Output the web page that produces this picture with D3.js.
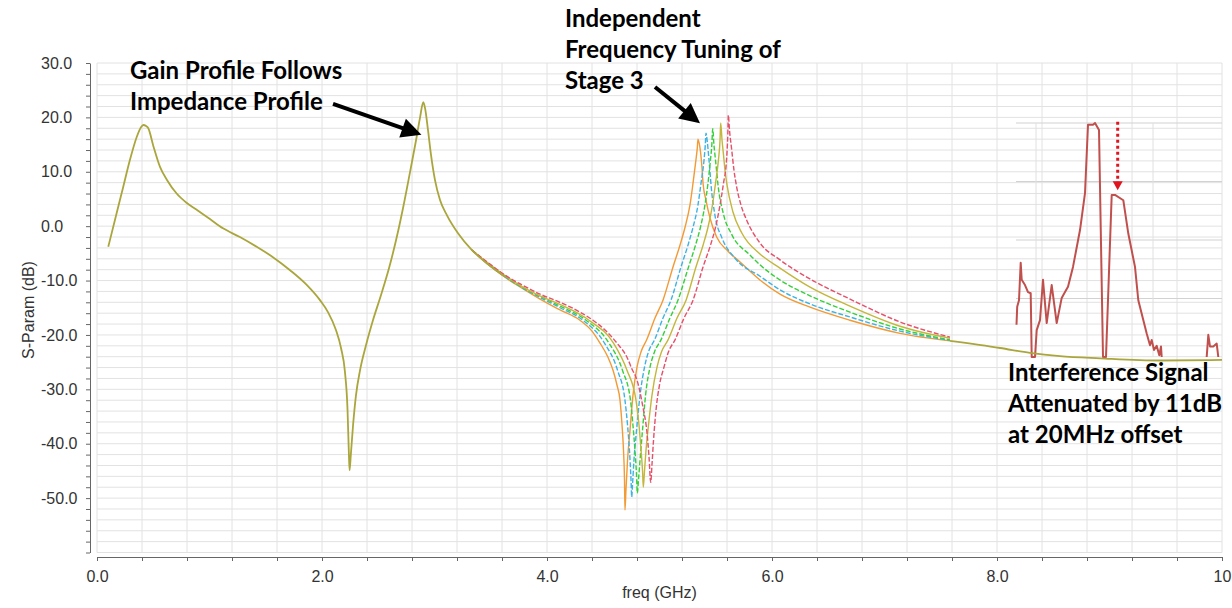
<!DOCTYPE html>
<html>
<head>
<meta charset="utf-8">
<title>S-Param vs freq</title>
<script src="https://cdn.jsdelivr.net/npm/d3@7"></script>
<style>
  body{margin:0;background:#fff;}
  svg{display:block;}
  .axis text{font-family:"Liberation Sans",Arial,sans-serif;font-size:16px;fill:#333;}
  .axis path,.axis line{stroke:#666;}
  .title{font-family:"Liberation Sans",Arial,sans-serif;font-size:16px;fill:#333;}
  .note{font-family:Lato,"Open Sans",sans-serif;font-weight:bold;font-size:24px;fill:#000;}
</style>
</head>
<body>
<svg id="chart" width="1232" height="608"></svg>
<script>
// freq in GHz, S-param in dB
var sharedLow = [[0.10,-3.8],[0.17,2.0],[0.234,7.3],[0.293,12.2],[0.353,16.4],[0.391,18.2],[0.412,18.6],
  [0.436,18.4],[0.456,18.0],[0.50,14.8],[0.56,10.9],[0.622,8.5],[0.708,6.0],[0.79,4.4],[0.886,3.0],
  [1.004,1.3],[1.12,-0.4],[1.27,-2.0],[1.42,-3.8],[1.564,-5.7],[1.716,-8.1],[1.864,-10.8],[1.982,-13.6],
  [2.053,-15.8],[2.124,-19.1],[2.169,-22.4],[2.204,-26.8],[2.227,-33.8],[2.238,-41.2],[2.245,-44.9],
  [2.256,-42.1],[2.276,-36.6],[2.302,-31.1],[2.338,-26.5],[2.391,-21.9],[2.453,-17.3],[2.524,-12.7],
  [2.596,-7.7],[2.658,-2.6],[2.72,3.3],[2.782,9.9],[2.836,15.8],[2.871,19.9],[2.9,22.8],[2.916,21.7],
  [2.942,17.7],[2.969,13.1],[3.004,8.5],[3.049,4.8],[3.111,2.0],[3.209,-1.3],[3.333,-4.4],[3.476,-7.0],
  [3.627,-9.3]];
var sharedHigh = [[7.582,-21.1],[8.027,-22.4],[8.293,-23.3],[8.56,-23.9],[8.916,-24.3],[9.449,-24.7],[10.0,-24.6]];

var stage3Orange = [[3.333,-4.4],[3.476,-7.0],[3.627,-9.4],[3.778,-11.4],[3.938,-13.4],[4.116,-15.4],
  [4.293,-17.3],[4.4,-19.3],[4.471,-21.5],[4.542,-24.1],[4.587,-26.5],[4.622,-29.2],[4.649,-32.0],
  [4.667,-36.6],[4.68,-41.2],[4.689,-46.7],[4.693,-52.2],[4.702,-48.5],[4.716,-43.0],[4.738,-37.5],
  [4.764,-31.1],[4.8,-25.9],[4.836,-23.1],[4.886,-20.9],[4.96,-16.9],[5.031,-13.6],[5.12,-7.5],
  [5.182,-3.5],[5.227,-0.2],[5.271,3.9],[5.298,7.9],[5.324,12.2],[5.336,14.4],[5.342,16.0],[5.356,14.9],
  [5.366,13.4],[5.378,10.7],[5.387,7.9],[5.413,4.8],[5.449,1.5],[5.508,-2.0],[5.609,-4.6],[5.716,-6.6],
  [5.893,-9.9],[6.071,-12.5],[6.338,-14.9],[6.693,-17.3],[7.138,-19.7],[7.582,-21.1]];
var stage3Blue = [[3.333,-4.4],[3.476,-7.0],[3.627,-9.3],[3.778,-11.3],[3.938,-13.1],[4.116,-15.0],
  [4.32,-17.3],[4.511,-21.5],[4.627,-26.5],[4.693,-32.0],[4.716,-36.6],[4.733,-41.2],[4.747,-46.7],
  [4.753,-49.8],[4.76,-47.6],[4.773,-43.0],[4.796,-37.5],[4.827,-31.1],[4.867,-25.9],[4.902,-23.1],
  [4.956,-20.9],[5.031,-16.9],[5.102,-13.6],[5.191,-7.5],[5.253,-3.5],[5.298,-0.2],[5.342,3.9],
  [5.369,7.9],[5.396,12.2],[5.407,14.9],[5.413,17.1],[5.425,15.5],[5.436,13.1],[5.449,10.0],[5.458,7.6],
  [5.493,2.0],[5.556,-2.2],[5.671,-5.9],[5.893,-9.2],[6.071,-11.7],[6.338,-14.3],[6.693,-16.7],
  [7.138,-19.3],[7.582,-21.0]];
var stage3Green = [[3.333,-4.4],[3.476,-6.9],[3.627,-9.2],[3.778,-11.2],[3.938,-12.9],[4.116,-14.7],
  [4.347,-17.3],[4.551,-21.5],[4.671,-26.5],[4.742,-32.0],[4.764,-36.6],[4.782,-41.2],[4.796,-45.8],
  [4.803,-49.1],[4.813,-46.7],[4.827,-43.0],[4.849,-37.5],[4.876,-31.1],[4.916,-25.9],[4.956,-23.1],
  [5.013,-20.9],[5.093,-16.9],[5.164,-13.6],[5.258,-7.5],[5.32,-3.5],[5.364,-0.2],[5.404,3.9],
  [5.431,7.9],[5.453,12.2],[5.465,14.9],[5.473,17.9],[5.484,14.9],[5.493,13.1],[5.507,10.3],[5.52,7.6],
  [5.564,2.6],[5.644,-1.6],[5.804,-5.3],[5.893,-7.1],[6.071,-9.9],[6.338,-12.8],[6.693,-15.8],
  [7.138,-18.9],[7.582,-20.9]];
var stage3Yellow = [[3.333,-4.4],[3.476,-6.8],[3.627,-9.1],[3.778,-11.1],[3.938,-12.8],[4.116,-14.4],
  [4.373,-17.3],[4.591,-21.5],[4.711,-26.5],[4.791,-32.0],[4.818,-36.6],[4.836,-41.2],[4.849,-44.9],
  [4.856,-48.0],[4.867,-44.9],[4.88,-41.2],[4.902,-36.6],[4.933,-31.1],[4.978,-25.9],[5.018,-23.1],
  [5.076,-20.9],[5.156,-16.9],[5.236,-13.6],[5.324,-7.5],[5.387,-3.5],[5.431,-0.2],[5.471,3.9],
  [5.498,7.9],[5.524,12.2],[5.538,15.8],[5.544,19.0],[5.556,15.8],[5.569,13.1],[5.582,10.3],[5.6,7.6],
  [5.653,2.6],[5.733,-1.3],[5.893,-5.1],[6.071,-7.7],[6.338,-11.2],[6.693,-14.7],[7.138,-18.4],
  [7.582,-20.6]];
var stage3Red = [[3.333,-4.4],[3.476,-6.7],[3.627,-9.0],[3.778,-10.8],[3.938,-12.5],[4.116,-14.0],
  [4.293,-15.8],[4.409,-17.3],[4.516,-19.1],[4.622,-21.5],[4.711,-24.1],[4.756,-26.3],[4.8,-28.3],
  [4.853,-33.3],[4.889,-38.0],[4.907,-42.5],[4.922,-47.1],[4.933,-43.9],[4.947,-39.3],[4.969,-33.8],
  [5.0,-29.2],[5.04,-25.9],[5.08,-23.1],[5.138,-20.9],[5.218,-16.9],[5.298,-13.6],[5.387,-7.5],
  [5.453,-3.5],[5.498,-0.2],[5.538,3.9],[5.569,7.9],[5.596,12.2],[5.607,16.8],[5.612,20.4],[5.622,17.7],
  [5.642,14.0],[5.662,10.3],[5.686,7.2],[5.724,3.9],[5.775,1.1],[5.893,-3.1],[6.071,-6.2],[6.338,-9.7],
  [6.693,-13.4],[7.138,-17.6],[7.582,-20.4]];

// inset spectrum: offset (MHz) vs level (dB)
var interfererMain = [[0.5,-34.5],[1.2,-31.4],[3,-30.3],[4.7,-23.9],[5.7,-26.8],[9,-27.7],[12,-28.9],
  [14.7,-29.1],[15.7,-40],[19,-40],[20.7,-35.4],[24,-33.7],[27,-26.8],[30.7,-34.2],[35.7,-27.7],
  [40.7,-34.2],[45.7,-29.9],[49,-28.9],[52,-28.0],[57,-24.6],[64,-18.3],[69,-12.0],[72,-0.3],[77,-0.3],
  [79,0],[83,-1.2],[87,-40],[90,-40],[95.7,-12.3],[99,-12.3],[107.3,-13.2],[112.3,-18.9],[119,-24.6],
  [122.3,-30.3],[130.7,-36.0],[134,-38.0],[135.7,-37.1],[138,-38.8],[140.7,-38.1],[143.3,-39.7],
  [145,-38.2],[145.7,-40]];
var interfererEdge = [[190.7,-40],[192.3,-36.2],[194,-38.2],[197.3,-38.2],[200.7,-37.7],[202.3,-40]];

var svg = d3.select("#chart");
var x = d3.scaleLinear().domain([0, 10]).range([97, 1222]);
var y = d3.scaleLinear().domain([-60, 30]).range([552.5, 63]);
var ix = d3.scaleLinear().domain([0, 206]).range([1016, 1222]);
var iy = d3.scaleLinear().domain([-40, 0]).range([357, 123]);

var xTicks = d3.range(0, 10.001, 0.4);
var yTicks = d3.range(-60, 30.001, 2);

// grid
var grid = svg.append("g");
grid.selectAll(".gx").data(xTicks).enter().append("line")
  .attr("x1", d => x(d)).attr("x2", d => x(d))
  .attr("y1", y(-60)).attr("y2", y(30))
  .attr("stroke", "#e2e2e2").attr("stroke-width", 1);
grid.selectAll(".gy").data(yTicks).enter().append("line")
  .attr("y1", d => y(d)).attr("y2", d => y(d))
  .attr("x1", x(0)).attr("x2", x(10))
  .attr("stroke", "#e2e2e2").attr("stroke-width", 1);

// axes
function isMajor(v, step){ return Math.abs(v / step - Math.round(v / step)) < 1e-6; }

svg.append("g").attr("class", "axis").attr("transform", "translate(0,557)")
  .call(d3.axisBottom(x).tickValues(xTicks).tickSize(4).tickSizeOuter(0).tickPadding(10)
    .tickFormat(v => !isMajor(v, 2) ? "" : (Math.round(v) == 10 ? "10" : v.toFixed(1))));

var yAxis = svg.append("g").attr("class", "axis").attr("transform", "translate(90,0)")
  .call(d3.axisLeft(y).tickValues(yTicks).tickSize(4).tickSizeOuter(0)
    .tickFormat(v => (isMajor(v, 10) && v > -60) ? v.toFixed(1) : ""));
yAxis.selectAll("text").attr("text-anchor", "start").attr("x", -49);

svg.append("text").attr("class", "title").attr("x", (x(0) + x(10)) / 2).attr("y", 598)
  .attr("text-anchor", "middle").text("freq (GHz)");
svg.append("text").attr("class", "title").attr("transform", "translate(34,310) rotate(-90)")
  .attr("text-anchor", "middle").text("S-Param (dB)");

// curves
var line = d3.line().x(d => x(d[0])).y(d => y(d[1])).curve(d3.curveMonotoneX);

var stage3 = [
  {data: stage3Orange, color: "#f29a35", dash: null},
  {data: stage3Blue, color: "#3db3e3", dash: "5,2"},
  {data: stage3Green, color: "#36d03a", dash: "5,2"},
  {data: stage3Yellow, color: "#c4b63c", dash: null},
  {data: stage3Red, color: "#e5506a", dash: "5,2"}
];
svg.append("g").selectAll("path").data(stage3).enter().append("path")
  .attr("d", d => line(d.data))
  .attr("fill", "none").attr("stroke", d => d.color).attr("stroke-width", 1.4)
  .attr("stroke-dasharray", d => d.dash);

// inset spectrum
var inset = svg.append("g");
inset.selectAll(".ih").data([0, -10, -20, -30]).enter().append("line")
  .attr("x1", ix(0)).attr("x2", ix(206)).attr("y1", d => iy(d)).attr("y2", d => iy(d))
  .attr("stroke", "#d2d2d2").attr("stroke-width", 1.2);
inset.selectAll(".iv").data([20, 137]).enter().append("line")
  .attr("x1", d => ix(d)).attr("x2", d => ix(d)).attr("y1", iy(0)).attr("y2", iy(-40))
  .attr("stroke", "#e0e0e0").attr("stroke-width", 1);

var iline = d3.line().x(d => ix(d[0])).y(d => iy(d[1]));
inset.selectAll(".ic").data([interfererMain, interfererEdge]).enter().append("path")
  .attr("d", iline).attr("fill", "none").attr("stroke", "#c0504d").attr("stroke-width", 2)
  .attr("stroke-linejoin", "round");

var olive = svg.append("g");
olive.selectAll("path").data([sharedLow, sharedHigh]).enter().append("path")
  .attr("d", line).attr("fill", "none").attr("stroke", "#aaa63c").attr("stroke-width", 1.8);

// red dotted arrow in inset
var ax = ix(101.7), ay0 = iy(0.2), ay1 = iy(-11.5);
inset.append("line").attr("x1", ax).attr("x2", ax).attr("y1", ay0).attr("y2", ay1 - 8)
  .attr("stroke", "#e0141e").attr("stroke-width", 3).attr("stroke-dasharray", "3,3");
inset.append("path").attr("d", "M" + (ax - 5) + "," + (ay1 - 9) + "L" + (ax + 5) + "," + (ay1 - 9) + "L" + ax + "," + ay1 + "Z")
  .attr("fill", "#e0141e");

// annotations
function arrow(x0, y0, x1, y1){
  var a = Math.atan2(y1 - y0, x1 - x0), L = 20, W = 10;
  var bx = x1 - L * Math.cos(a), by = y1 - L * Math.sin(a);
  svg.append("line").attr("x1", x0).attr("y1", y0).attr("x2", bx + 3 * Math.cos(a)).attr("y2", by + 3 * Math.sin(a))
    .attr("stroke", "#000").attr("stroke-width", 4);
  svg.append("path").attr("fill", "#000")
    .attr("d", "M" + x1 + "," + y1 +
      "L" + (bx + W * Math.sin(a)) + "," + (by - W * Math.cos(a)) +
      "L" + (bx - W * Math.sin(a)) + "," + (by + W * Math.cos(a)) + "Z");
}
function note(lines, fx, db){
  var t = svg.append("text").attr("class", "note").attr("x", x(fx)).attr("y", y(db));
  lines.forEach(function(s, i){
    t.append("tspan").attr("x", x(fx)).attr("dy", i ? 31 : 0).text(s);
  });
}

note(["Gain Profile Follows", "Impedance Profile"], 0.293, 27.1);
arrow(x(2.098), y(22.5), x(2.884), y(16.8));
note(["Independent", "Frequency Tuning of", "Stage 3"], 4.16, 36.7);
arrow(x(4.96), y(25.6), x(5.36), y(18.9));
note(["Interference Signal", "Attenuated by 11dB", "at 20MHz offset"], 8.098, -28.4);
</script>
</body>
</html>
